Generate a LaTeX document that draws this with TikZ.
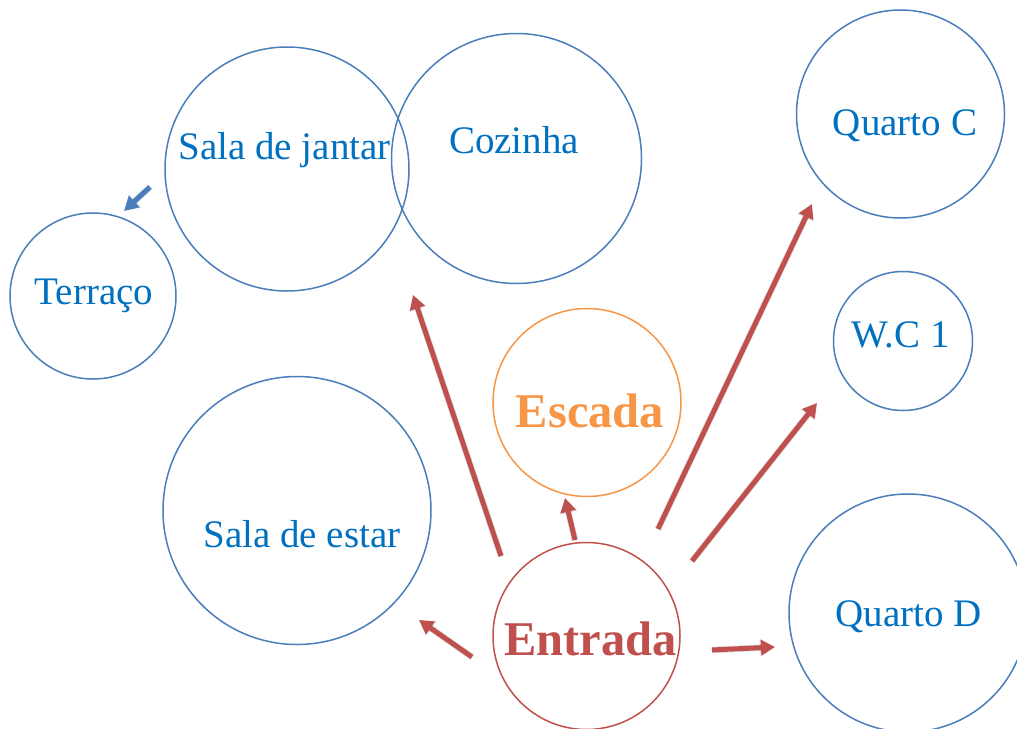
\documentclass[tikz,border=0pt]{standalone}
\usepackage{fontspec}
\setmainfont{Liberation Serif}
\usetikzlibrary{arrows.meta}
\definecolor{cblue}{HTML}{4A7EBB}
\definecolor{tblue}{HTML}{0070C0}
\definecolor{cred}{HTML}{C0504D}
\definecolor{corange}{HTML}{F79646}
\tikzset{
  room/.style={circle,draw=cblue,line width=1.5pt,inner sep=0pt,fill=none},
  roomtxt/.style={anchor=base,inner sep=0pt,text=tblue,font=\fontsize{39}{44}\selectfont},
  bigtxt/.style={anchor=base,inner sep=0pt,font=\fontsize{48.5}{54}\selectfont\bfseries},
  redarrow/.style={draw=cred,line width=5pt,-{Triangle[length=14pt,width=15pt]}},
  bluearrow/.style={draw=cblue,line width=5pt,-{Triangle[length=14pt,width=15pt]}},
  shadowarrow/.style={draw=black,opacity=0.12,line width=6.5pt,-{Triangle[length=15pt,width=17pt]}}
}
\begin{document}
\begin{tikzpicture}[x=1pt,y=-1pt]
\useasboundingbox (0,0) rectangle (1017,728);
\clip (0,0) rectangle (1017,728);
\fill[white] (0,0) rectangle (1017,728);

% circles
\node[room,minimum size=244pt] (jantar) at (287,169) {};
\node[room,minimum size=250pt] (cozinha) at (516.5,158.5) {};
\node[room,minimum size=166pt] (terraco) at (93,296) {};
\node[room,minimum size=208pt] (quartoC) at (900.5,114) {};
\node[room,minimum size=139pt] (wc) at (903,341) {};
\node[room,minimum size=268pt] (estar) at (297,510.5) {};
\node[room,minimum size=238pt] (quartoD) at (908,613) {};
\node[circle,draw=corange,line width=1.5pt,inner sep=0pt,minimum size=188pt] (escada) at (587,402.5) {};
\node[circle,draw=cred,line width=1.5pt,inner sep=0pt,minimum size=187pt] (entrada) at (586.5,636) {};

% labels
\node[roomtxt] (tjantar) at (284.5,159) {Sala de jantar};
\node[roomtxt] (tcozinha) at (514,153) {Cozinha};
\node[roomtxt] (tterraco) at (94,304) {Terraço};
\node[roomtxt] (tquartoC) at (905,135) {Quarto C};
\node[roomtxt] (twc) at (900.5,347) {W.C 1};
\node[roomtxt] (testar) at (302,547) {Sala de estar};
\node[roomtxt] (tquartoD) at (908.5,626) {Quarto D};
\node[bigtxt,text=corange] (tescada) at (590,427) {Escada};
\node[bigtxt,text=cred] (tentrada) at (590.5,655) {Entrada};

% arrow end points
\coordinate (s1) at (501,556); \coordinate (e1) at (413,295);
\coordinate (s2) at (575,540); \coordinate (e2) at (565,498);
\coordinate (s3) at (658,529); \coordinate (e3) at (812,204);
\coordinate (s4) at (692,561); \coordinate (e4) at (817,403);
\coordinate (s5) at (712,650); \coordinate (e5) at (775,647);
\coordinate (s6) at (472,657); \coordinate (e6) at (419,620);
\coordinate (s7) at (150,187); \coordinate (e7) at (124,211);

% shadows
\begin{scope}[shift={(1.5,2)}]
\foreach \i in {1,...,7} { \draw[shadowarrow] (s\i) -- (e\i); }
\end{scope}

% arrows
\draw[redarrow] (s1) -- (e1);
\draw[redarrow] (s2) -- (e2);
\draw[redarrow] (s3) -- (e3);
\draw[redarrow] (s4) -- (e4);
\draw[redarrow] (s5) -- (e5);
\draw[redarrow] (s6) -- (e6);
\draw[bluearrow] (s7) -- (e7);
\end{tikzpicture}
\end{document}
